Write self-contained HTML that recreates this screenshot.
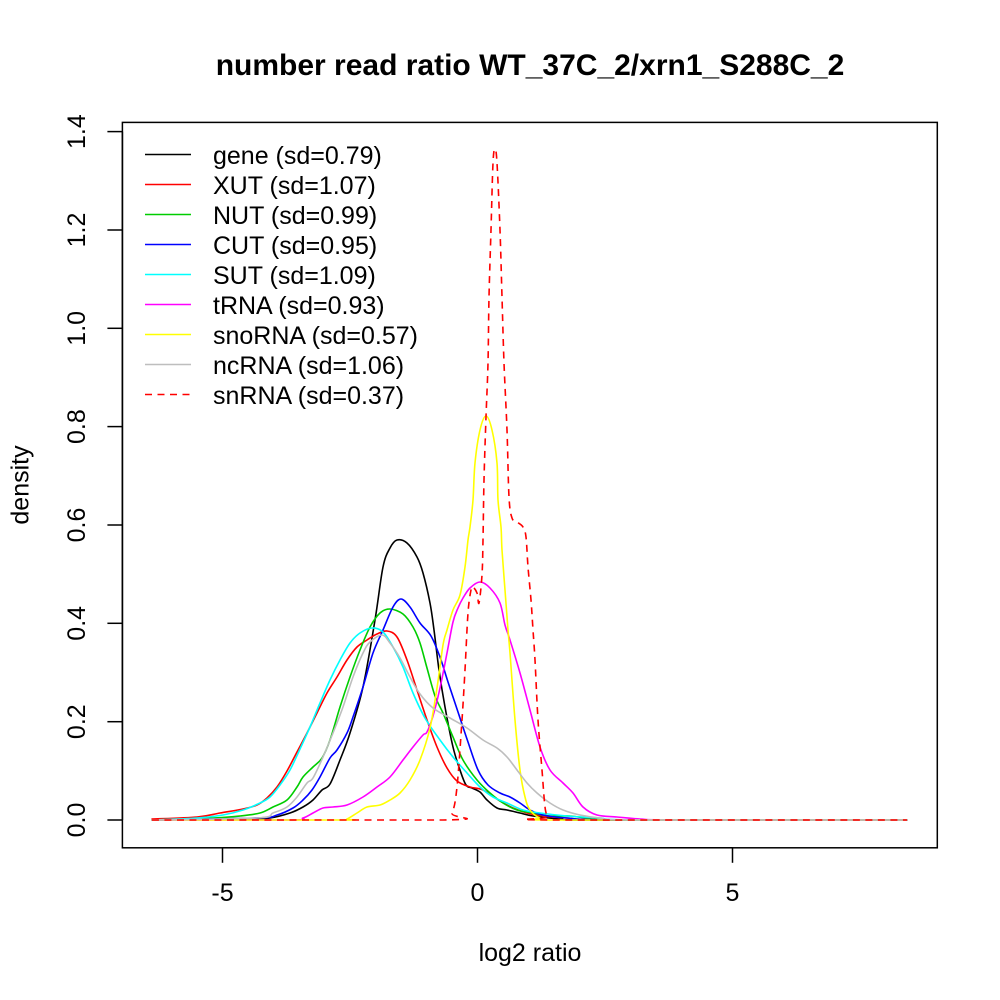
<!DOCTYPE html>
<html>
<head>
<meta charset="utf-8">
<style>
  html, body { margin: 0; padding: 0; background: #ffffff; }
  svg { display: block; }
  text { font-family: "Liberation Sans", Arial, sans-serif; fill: #000; }
</style>
</head>
<body>
<svg id="chart" width="1000" height="1000" viewBox="0 0 1000 1000" xmlns="http://www.w3.org/2000/svg">
  <rect x="0" y="0" width="1000" height="1000" fill="#ffffff"/>

  <!-- Title -->
  <text x="530" y="75" font-size="30" font-weight="bold" text-anchor="middle">number read ratio WT_37C_2/xrn1_S288C_2</text>

  <!-- Curves -->
  <g fill="none" stroke-width="1.6" stroke-linejoin="round" stroke-linecap="round">
    <!-- gene -->
    <polyline class="s" stroke="#000000" points="152,820 250,819 270,818 290,813 303,807 313,800 322,790 330,784 340,760 350,733 363,687 375,620 383,567 390,548 397,540 407,543 417,557 423,573 430,603 434,630 439,670 445,707 453,747 460,770 466,785 472,788 480,792 487,800 497,808 507,810 520,813 533,816 560,819 600,820 907,820"/>
    <!-- XUT -->
    <polyline class="s" stroke="#FF0000" points="152,819 197,817 220,813 243,809 257,805 267,798 277,787 287,771 297,752 307,733 317,713 327,693 337,677 347,660 357,647 367,640 377,634 387,631 397,637 407,660 417,690 427,720 437,747 447,768 457,781 470,787 483,790 500,801 513,808 527,813 543,816 567,818 620,820 907,820"/>
    <!-- NUT -->
    <polyline class="s" stroke="#00CD00" points="152,820 213,818 240,816 260,813 273,807 287,800 297,787 303,777 313,767 322,758 330,740 340,707 350,677 360,650 370,627 380,613 390,609 403,614 413,627 420,643 427,668 435,696 443,713 453,737 463,760 477,780 490,793 503,803 517,810 533,813 550,816 570,816 587,818 630,820 907,820"/>
    <!-- CUT -->
    <polyline class="s" stroke="#0000FF" points="152,820 257,818 277,815 293,808 303,800 312,790 320,777 330,758 337,750 347,733 353,717 363,687 373,653 383,630 393,607 401,599 410,607 420,623 431,636 440,657 448,682 458,712 468,742 478,770 488,785 500,793 510,797 520,803 530,810 543,815 567,818 620,820 907,820"/>
    <!-- SUT -->
    <polyline class="s" stroke="#00FFFF" points="152,820 197,818 223,815 243,810 260,803 270,797 280,785 290,770 300,749 310,727 320,703 330,680 340,660 350,643 360,633 372,628 383,632 393,647 403,667 413,693 425,718 440,740 453,757 467,773 480,787 493,797 507,803 523,810 540,813 567,816 600,818 640,820 907,820"/>
    <!-- tRNA -->
    <polyline class="s" stroke="#FF00FF" points="152,820 290,820 303,818 313,813 323,808 333,807 347,805 363,797 377,787 390,777 403,760 413,747 423,735 427,732 433,716 440,688 447,653 453,622 458,608 463,598 470,588 480,582 490,588 500,603 505,625 510,640 520,673 530,710 540,747 550,770 563,783 573,793 583,807 597,815 617,817 640,819 680,820 907,820"/>
    <!-- snoRNA -->
    <polyline class="s" stroke="#FFFF00" points="152,820 340,820 347,819 357,813 367,807 380,805 390,800 400,793 410,780 420,760 430,728 437,688 443,645 447,630 453,610 460,595 465,567 468,540 470,527 473,500 475,463 480,430 486,416 492,430 497,463 498,500 501,527 502,550 505,590 508,630 510,653 515,720 520,770 525,797 530,810 540,818 560,820 907,820"/>
    <!-- ncRNA -->
    <polyline class="s" stroke="#BEBEBE" points="152,820 257,818 273,813 287,807 297,797 307,783 313,778 323,757 333,733 343,707 353,677 363,653 370,642 382,635 390,643 400,658 410,677 420,694 433,708 450,718 467,728 483,740 497,748 507,757 517,770 527,783 537,793 550,803 563,810 580,815 600,818 640,820 907,820"/>
    <!-- snRNA (dashed) -->
    <polyline class="s" stroke="#FF0000" stroke-dasharray="7,5.5" stroke-linecap="butt" points="152,820 443,820 452,813 457,787 462,720 465,670 468,613 471,590 473,587 477,593 479,603 482,575 483,540 484,480 486,417 488,363 489,297 491,230 493,163 495,149 497,163 500,230 502,297 504,363 507,430 509,497 512,518 517,522 523,527 526,537 528,567 531,600 533,630 535,660 538,720 542,770 545,807 548,817 552,820 907,820"/>
  </g>

  <!-- Plot box -->
  <rect x="122.4" y="122.4" width="814.9" height="725.4" fill="none" stroke="#000" stroke-width="1.5"/>

  <!-- X axis ticks -->
  <g stroke="#000" stroke-width="1.5">
    <line x1="222.5" y1="847.8" x2="732.5" y2="847.8"/>
    <line x1="222.5" y1="847.8" x2="222.5" y2="862.8"/>
    <line x1="477.5" y1="847.8" x2="477.5" y2="862.8"/>
    <line x1="732.5" y1="847.8" x2="732.5" y2="862.8"/>
  </g>
  <g font-size="25" text-anchor="middle">
    <text x="222.5" y="901">-5</text>
    <text x="477.5" y="901">0</text>
    <text x="732.5" y="901">5</text>
  </g>
  <text x="530" y="961" font-size="25" text-anchor="middle">log2 ratio</text>

  <!-- Y axis ticks -->
  <g stroke="#000" stroke-width="1.5">
    <line x1="122.4" y1="131.6" x2="122.4" y2="820"/>
    <line x1="107.4" y1="820" x2="122.4" y2="820"/>
    <line x1="107.4" y1="721.7" x2="122.4" y2="721.7"/>
    <line x1="107.4" y1="623.3" x2="122.4" y2="623.3"/>
    <line x1="107.4" y1="525" x2="122.4" y2="525"/>
    <line x1="107.4" y1="426.6" x2="122.4" y2="426.6"/>
    <line x1="107.4" y1="328.3" x2="122.4" y2="328.3"/>
    <line x1="107.4" y1="230" x2="122.4" y2="230"/>
    <line x1="107.4" y1="131.6" x2="122.4" y2="131.6"/>
  </g>
  <g font-size="25" text-anchor="middle">
    <text x="85" y="820" transform="rotate(-90 85 820)">0.0</text>
    <text x="85" y="721.7" transform="rotate(-90 85 721.7)">0.2</text>
    <text x="85" y="623.3" transform="rotate(-90 85 623.3)">0.4</text>
    <text x="85" y="525" transform="rotate(-90 85 525)">0.6</text>
    <text x="85" y="426.6" transform="rotate(-90 85 426.6)">0.8</text>
    <text x="85" y="328.3" transform="rotate(-90 85 328.3)">1.0</text>
    <text x="85" y="230" transform="rotate(-90 85 230)">1.2</text>
    <text x="85" y="131.6" transform="rotate(-90 85 131.6)">1.4</text>
  </g>
  <text x="28.5" y="485" font-size="25" text-anchor="middle" transform="rotate(-90 28.5 485)">density</text>

  <!-- Legend -->
  <g stroke-width="1.6" fill="none">
    <line x1="145" y1="154.5" x2="191" y2="154.5" stroke="#000000"/>
    <line x1="145" y1="184.5" x2="191" y2="184.5" stroke="#FF0000"/>
    <line x1="145" y1="214.5" x2="191" y2="214.5" stroke="#00CD00"/>
    <line x1="145" y1="244.5" x2="191" y2="244.5" stroke="#0000FF"/>
    <line x1="145" y1="274.5" x2="191" y2="274.5" stroke="#00FFFF"/>
    <line x1="145" y1="304.5" x2="191" y2="304.5" stroke="#FF00FF"/>
    <line x1="145" y1="334.5" x2="191" y2="334.5" stroke="#FFFF00"/>
    <line x1="145" y1="364.5" x2="191" y2="364.5" stroke="#BEBEBE"/>
    <line x1="145" y1="394.5" x2="191" y2="394.5" stroke="#FF0000" stroke-dasharray="7,5.5"/>
  </g>
  <g font-size="25">
    <text x="213" y="164">gene (sd=0.79)</text>
    <text x="213" y="194">XUT (sd=1.07)</text>
    <text x="213" y="224">NUT (sd=0.99)</text>
    <text x="213" y="254">CUT (sd=0.95)</text>
    <text x="213" y="284">SUT (sd=1.09)</text>
    <text x="213" y="314">tRNA (sd=0.93)</text>
    <text x="213" y="344">snoRNA (sd=0.57)</text>
    <text x="213" y="374">ncRNA (sd=1.06)</text>
    <text x="213" y="404">snRNA (sd=0.37)</text>
  </g>
</svg>
<script>
(function () {
  var NS = "http://www.w3.org/2000/svg";
  var lines = document.querySelectorAll("polyline.s");
  for (var k = 0; k < lines.length; k++) {
    var pl = lines[k];
    var raw = pl.getAttribute("points").trim().split(/\s+/);
    var p = raw.map(function (s) { var a = s.split(","); return [parseFloat(a[0]), parseFloat(a[1])]; });
    var d = "M" + p[0][0] + "," + p[0][1];
    for (var i = 0; i < p.length - 1; i++) {
      var p0 = p[i > 0 ? i - 1 : i], p1 = p[i], p2 = p[i + 1], p3 = p[i + 2 < p.length ? i + 2 : i + 1];
      var c1x = p1[0] + (p2[0] - p0[0]) / 6, c1y = p1[1] + (p2[1] - p0[1]) / 6;
      var c2x = p2[0] - (p3[0] - p1[0]) / 6, c2y = p2[1] - (p3[1] - p1[1]) / 6;
      if (c1y > 820) c1y = 820;
      if (c2y > 820) c2y = 820;
      d += " C" + c1x.toFixed(2) + "," + c1y.toFixed(2) + " " + c2x.toFixed(2) + "," + c2y.toFixed(2) + " " + p2[0] + "," + p2[1];
    }
    var path = document.createElementNS(NS, "path");
    for (var j = 0; j < pl.attributes.length; j++) {
      var at = pl.attributes[j];
      if (at.name !== "points" && at.name !== "class") path.setAttribute(at.name, at.value);
    }
    path.setAttribute("d", d);
    pl.parentNode.replaceChild(path, pl);
  }
})();
</script>
</body>
</html>
